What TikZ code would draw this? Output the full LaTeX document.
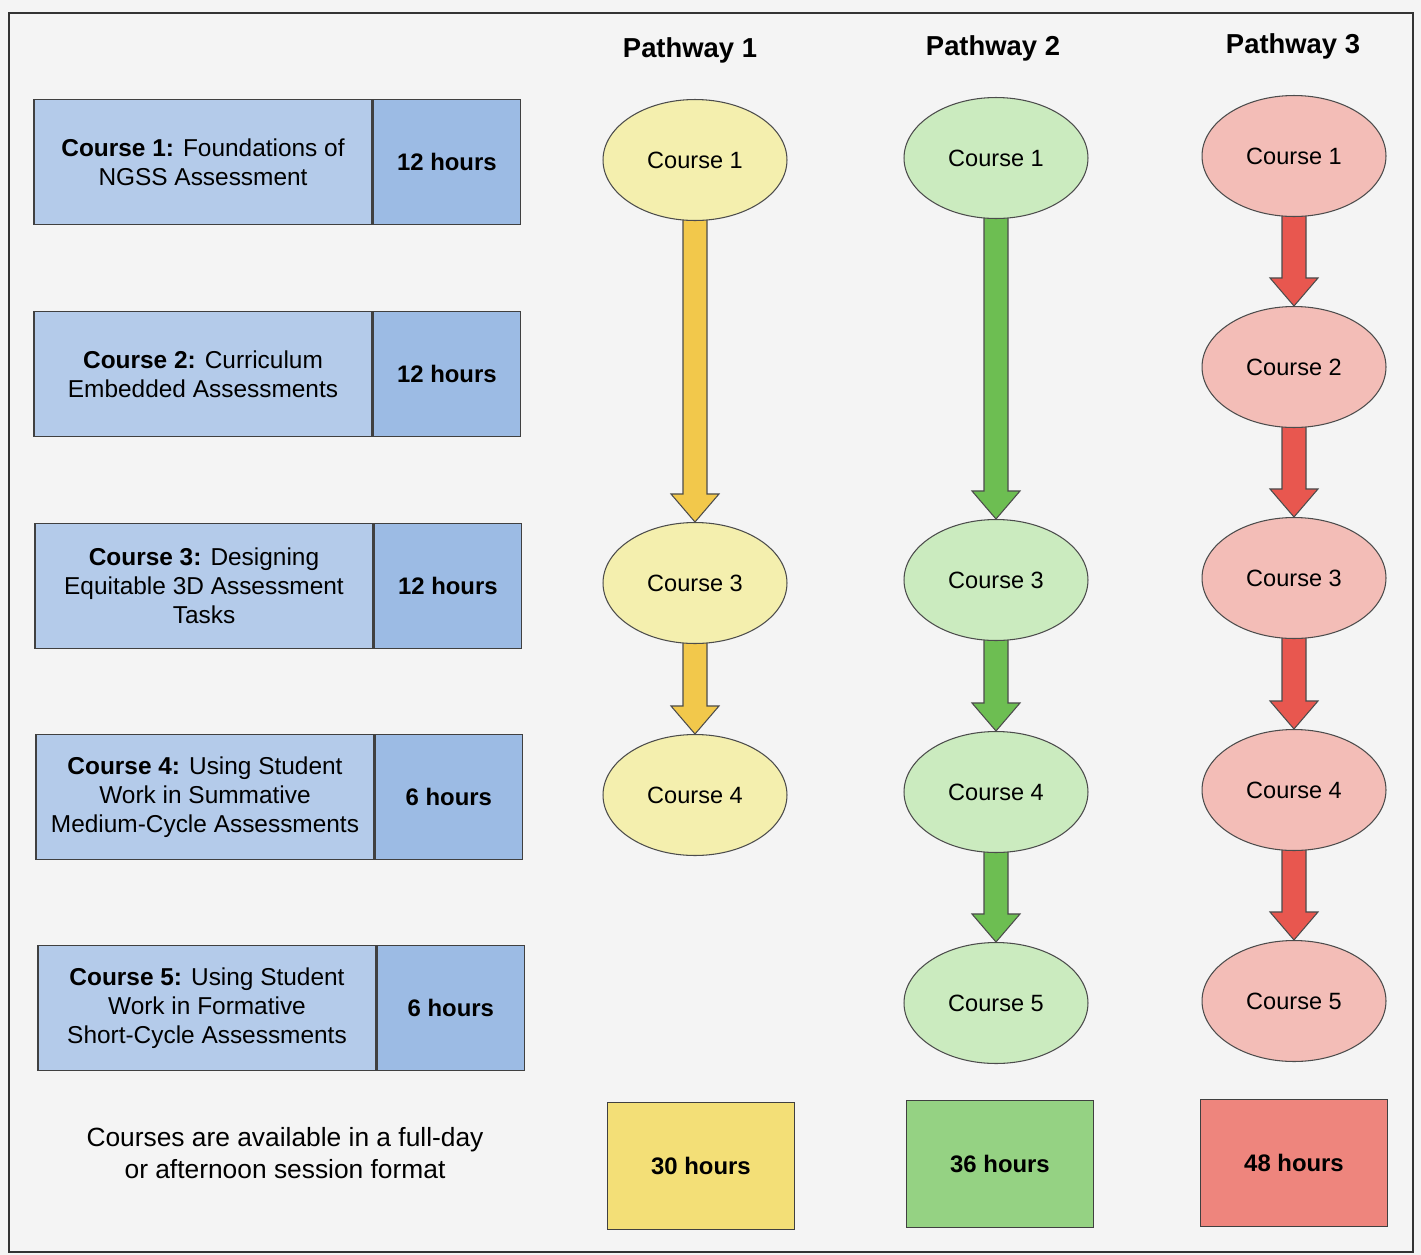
\documentclass[tikz,border=0pt]{standalone}
\usepackage{fontspec}
\setmainfont{Liberation Sans}
\usetikzlibrary{positioning,shapes.geometric,calc}

\definecolor{pagebg}{HTML}{F4F4F4}
\definecolor{boxlight}{HTML}{B4CBEA}
\definecolor{boxdark}{HTML}{9CBBE4}
\definecolor{ylwell}{HTML}{F4EFAE}
\definecolor{ylwarr}{HTML}{F2C84B}
\definecolor{ylwbox}{HTML}{F3DF77}
\definecolor{grnell}{HTML}{CBEBBF}
\definecolor{grnarr}{HTML}{6DBE52}
\definecolor{grnbox}{HTML}{95D283}
\definecolor{redell}{HTML}{F3BDB7}
\definecolor{redarr}{HTML}{E8574F}
\definecolor{redbox}{HTML}{EE857D}

\pgfdeclarelayer{bg}
\pgfsetlayers{bg,main}

\tikzset{
  coursebox/.style={draw=black!75, line width=0.8pt, fill=boxlight, minimum width=6.76cm,
    minimum height=2.5cm, align=center, inner sep=0pt, font=\fontsize{13.9}{16.4}\selectfont},
  hoursbox/.style={draw=black!75, line width=0.8pt, fill=boxdark, minimum width=2.94cm,
    minimum height=2.5cm, inner sep=0pt, font=\bfseries\fontsize{13.6}{16}\selectfont},
  stage/.style={ellipse, draw=black!70, line width=0.6pt, minimum width=3.68cm,
    minimum height=2.42cm, inner sep=0pt, font=\fontsize{13.4}{16}\selectfont},
  totalbox/.style={draw=black!75, line width=0.8pt, minimum width=3.74cm,
    minimum height=2.54cm, inner sep=0pt, font=\bfseries\fontsize{13.6}{16}\selectfont},
  heading/.style={font=\bfseries\fontsize{15.6}{18}\selectfont},
}

% block arrow from the bottom of one stage to the top of the next
\newcommand{\blockarrow}[3]{%
  \begin{pgfonlayer}{bg}
  \draw[draw=black!70, line width=0.6pt, fill=#3, line join=miter]
    ($(#1.south)+(-12,-4)$) -- ($(#2.north)+(-12,-28)$) -- ($(#2.north)+(-24,-28)$)
    -- (#2.north) -- ($(#2.north)+(24,-28)$) -- ($(#2.north)+(12,-28)$)
    -- ($(#1.south)+(12,-4)$) -- cycle;
  \end{pgfonlayer}}

\begin{document}
\begin{tikzpicture}[x=0.02cm, y=-0.02cm]
  \useasboundingbox (0,0) rectangle (1421,1255);
  \begin{pgfonlayer}{bg}
    \fill[pagebg] (0,0) rectangle (1421,1255);
  \end{pgfonlayer}

  % frame
  \draw[line width=1.2pt, draw=black!80] (9,13) rectangle (1413,1252);

  % headings
  \node[heading] (head1) at (690,50) {Pathway 1};
  \node[heading] (head2) at (993,48) {Pathway 2};
  \node[heading] (head3) at (1293,46) {Pathway 3};

  % course list on the left
  \node[coursebox] (c1txt) at (203,162) {\textbf{Course 1:} Foundations of\\NGSS Assessment};
  \node[hoursbox, right=0pt of c1txt] (c1hrs) {12 hours};

  \node[coursebox] (c2txt) at (203,374) {\textbf{Course 2:} Curriculum\\Embedded Assessments};
  \node[hoursbox, right=0pt of c2txt] (c2hrs) {12 hours};

  \node[coursebox] (c3txt) at (204,586) {\textbf{Course 3:} Designing\\Equitable 3D Assessment\\Tasks};
  \node[hoursbox, right=0pt of c3txt] (c3hrs) {12 hours};

  \node[coursebox] (c4txt) at (205,797) {\textbf{Course 4:} Using Student\\Work in Summative\\Medium-Cycle Assessments};
  \node[hoursbox, right=0pt of c4txt] (c4hrs) {6 hours};

  \node[coursebox] (c5txt) at (207,1008) {\textbf{Course 5:} Using Student\\Work in Formative\\Short-Cycle Assessments};
  \node[hoursbox, right=0pt of c5txt] (c5hrs) {6 hours};

  \node[align=center, font=\fontsize{15}{18.7}\selectfont] (format) at (285,1153)
    {Courses are available in a full-day\\or afternoon session format};

  % pathway 1
  \node[stage, fill=ylwell] (p1a) at (695,160) {Course 1};
  \node[stage, fill=ylwell] (p1c) at (695,583) {Course 3};
  \node[stage, fill=ylwell] (p1d) at (695,795) {Course 4};
  \blockarrow{p1a}{p1c}{ylwarr}
  \blockarrow{p1c}{p1d}{ylwarr}

  % pathway 2
  \node[stage, fill=grnell] (p2a) at (996,158) {Course 1};
  \node[stage, fill=grnell] (p2c) at (996,580) {Course 3};
  \node[stage, fill=grnell] (p2d) at (996,792) {Course 4};
  \node[stage, fill=grnell] (p2e) at (996,1003) {Course 5};
  \blockarrow{p2a}{p2c}{grnarr}
  \blockarrow{p2c}{p2d}{grnarr}
  \blockarrow{p2d}{p2e}{grnarr}

  % pathway 3
  \node[stage, fill=redell] (p3a) at (1294,156) {Course 1};
  \node[stage, fill=redell] (p3b) at (1294,367) {Course 2};
  \node[stage, fill=redell] (p3c) at (1294,578) {Course 3};
  \node[stage, fill=redell] (p3d) at (1294,790) {Course 4};
  \node[stage, fill=redell] (p3e) at (1294,1001) {Course 5};
  \blockarrow{p3a}{p3b}{redarr}
  \blockarrow{p3b}{p3c}{redarr}
  \blockarrow{p3c}{p3d}{redarr}
  \blockarrow{p3d}{p3e}{redarr}

  % totals
  \node[totalbox, fill=ylwbox] (tot1) at (701,1166) {30 hours};
  \node[totalbox, fill=grnbox] (tot2) at (1000,1164) {36 hours};
  \node[totalbox, fill=redbox] (tot3) at (1294,1163) {48 hours};
\end{tikzpicture}
\end{document}
